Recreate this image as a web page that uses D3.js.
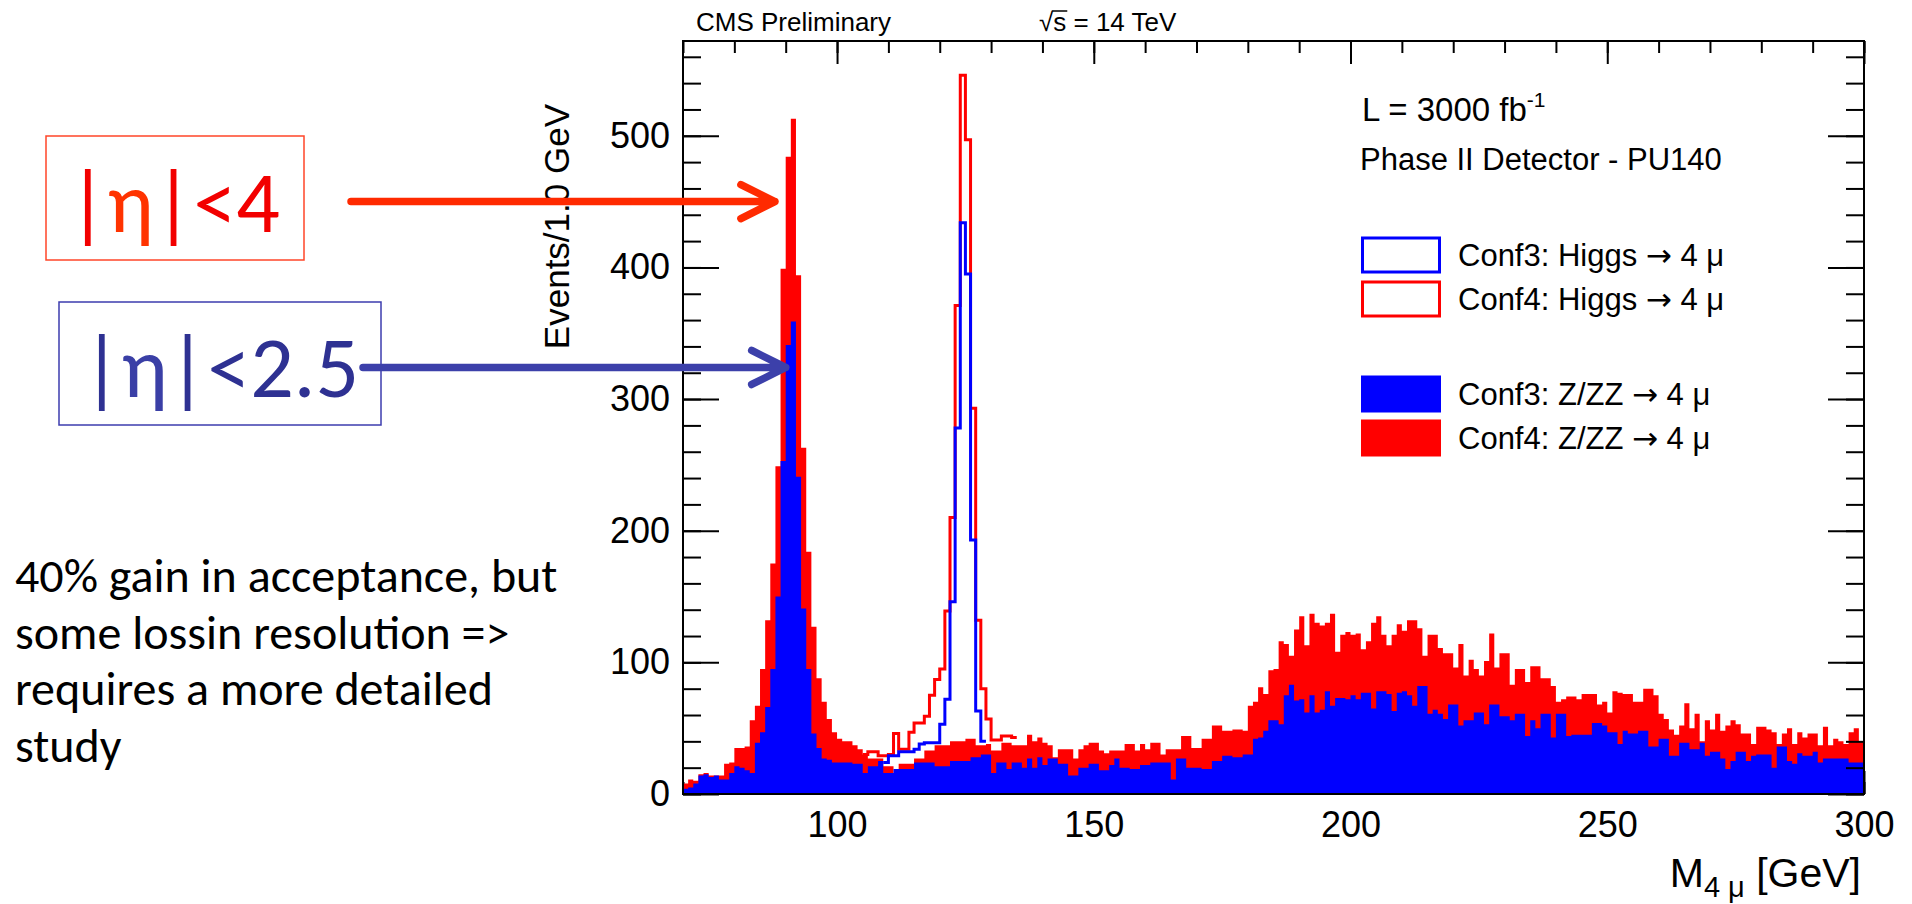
<!DOCTYPE html>
<html>
<head>
<meta charset="utf-8">
<title>M4mu Phase II</title>
<script src="https://d3js.org/d3.v7.min.js"></script>
<style>
    body { margin: 0; background: #fff; }
    svg { display: block; }
    .root-font { font-family: "Liberation Sans", Arial, Helvetica, sans-serif; }
    .slide-font { font-family: Carlito, Calibri, Lato, "Noto Sans", sans-serif; }
</style>
</head>
<body>
<svg id="chart" width="1912" height="904"></svg>
<script>
    // 1 GeV bins, first bin starts at 70 GeV
    const massStart = 70;

    const conf4ZZ = [
        8, 11, 10, 15, 16, 14, 14, 14, 23, 24,
        35, 35, 36, 56, 67, 95, 132, 175, 249, 399,
        484, 513, 394, 263, 184, 127, 88, 70, 57, 47,
        42, 40, 40, 37, 34, 30, 27, 27, 27, 21,
        21, 16, 23, 23, 23, 27, 27, 33, 33, 37,
        37, 37, 40, 40, 40, 42, 42, 37, 37, 38,
        33, 33, 39, 39, 37, 37, 37, 45, 40, 43,
        39, 37, 28, 34, 34, 34, 27, 34, 37, 39,
        39, 33, 31, 33, 33, 33, 38, 38, 33, 38,
        34, 39, 39, 30, 34, 34, 34, 44, 44, 35,
        35, 42, 42, 52, 52, 48, 48, 49, 49, 48,
        67, 70, 81, 76, 94, 95, 116, 114, 105, 125,
        135, 113, 137, 130, 128, 130, 137, 108, 121, 123,
        121, 122, 110, 116, 130, 135, 121, 113, 121, 129,
        124, 132, 132, 126, 105, 121, 121, 111, 107, 107,
        96, 114, 90, 102, 95, 90, 101, 122, 96, 107,
        107, 83, 95, 95, 85, 97, 97, 88, 88, 82,
        70, 72, 74, 74, 72, 76, 76, 76, 68, 70,
        62, 78, 77, 76, 76, 70, 70, 80, 80, 75,
        61, 57, 49, 45, 52, 69, 50, 61, 40, 56,
        49, 61, 48, 52, 56, 53, 46, 46, 38, 51,
        51, 49, 47, 38, 46, 50, 38, 47, 43, 46,
        46, 37, 51, 37, 42, 40, 38, 47, 50, 40
    ];

    const conf3ZZ = [
        4, 5, 8, 14, 15, 13, 14, 11, 11, 16,
        21, 20, 18, 16, 39, 47, 66, 95, 150, 253,
        341, 359, 241, 141, 95, 46, 35, 27, 26, 24,
        24, 24, 24, 23, 23, 16, 21, 21, 25, 16,
        16, 19, 19, 19, 19, 24, 24, 24, 24, 21,
        21, 21, 25, 25, 25, 25, 28, 28, 30, 30,
        16, 24, 24, 19, 24, 24, 20, 27, 20, 28,
        22, 27, 27, 23, 23, 14, 14, 20, 20, 23,
        23, 18, 18, 22, 27, 20, 20, 19, 19, 22,
        22, 24, 24, 24, 24, 11, 27, 27, 20, 20,
        20, 19, 19, 25, 25, 29, 29, 28, 28, 30,
        30, 42, 43, 48, 56, 56, 53, 75, 83, 71,
        72, 62, 75, 62, 64, 78, 67, 73, 73, 72,
        75, 72, 77, 77, 65, 78, 78, 76, 63, 77,
        78, 75, 67, 82, 82, 61, 64, 61, 57, 68,
        68, 52, 56, 56, 62, 62, 53, 68, 68, 59,
        59, 56, 61, 61, 44, 56, 50, 61, 61, 43,
        61, 61, 44, 45, 45, 45, 45, 54, 54, 52,
        47, 47, 38, 48, 46, 46, 48, 48, 36, 36,
        42, 42, 29, 29, 39, 39, 34, 34, 39, 29,
        32, 32, 27, 19, 25, 32, 32, 25, 29, 30,
        30, 30, 20, 36, 36, 25, 23, 31, 29, 29,
        32, 24, 27, 27, 27, 27, 27, 24, 24, 24
    ];

    // Higgs outlines only cover the window around the peak
    const conf4HiggsStart = 105;
    const conf4Higgs = [30, 32, 32, 29, 29, 30, 46, 34, 34, 47,
        54, 54, 59, 75, 87, 95, 139, 210, 371, 546,
        497, 293, 132, 80, 57, 41, 41, 44, 44, 43];

    const conf3HiggsStart = 109;
    const conf3Higgs = [24, 29, 29, 32, 32, 32, 34, 38, 39, 39,
        39, 53, 72, 146, 278, 434, 395, 193, 63, 40];

    const xTickLabels = [100, 150, 200, 250, 300];
    const yTickLabels = [0, 100, 200, 300, 400, 500];

    const legendLabels = ["Conf3: Higgs \u2192 4 \u03bc", "Conf4: Higgs \u2192 4 \u03bc",
        "Conf3: Z/ZZ \u2192 4 \u03bc", "Conf4: Z/ZZ \u2192 4 \u03bc"];
    const legendColors = ["#0000ff", "#ff0000", "#0000ff", "#ff0000"];
    const legendFilled = [false, false, true, true];

    const noteLines = ["40% gain in acceptance, but", "some lossin resolution =>",
        "requires a more detailed", "study"];

    const svg = d3.select("#chart");
    const plotLeft = 683, plotRight = 1864, plotTop = 41, plotBottom = 794;

    const x = d3.scaleLinear().domain([70, 300]).range([plotLeft, plotRight]);
    const y = d3.scaleLinear().domain([0, 572]).range([plotBottom, plotTop]);

    function histPoints(start, vals) {
        const pts = vals.map((v, i) => [start + i, v]);
        pts.push([start + vals.length, vals[vals.length - 1]]);
        return pts;
    }

    const area = d3.area()
        .x(d => x(d[0]))
        .y0(y(0))
        .y1(d => y(d[1]))
        .curve(d3.curveStepAfter);
    const line = d3.line()
        .x(d => x(d[0]))
        .y(d => y(d[1]))
        .curve(d3.curveStepAfter);

    function styleAxis(g) {
        g.select(".domain").remove();
        g.selectAll("line").attr("stroke", "#000").attr("stroke-width", 2);
        g.selectAll("text").attr("fill", "#000");
    }

    // bottom axis goes first so that the fills cover its ticks
    const bottomAxis = svg.append("g")
        .attr("class", "root-font")
        .attr("transform", `translate(0,${plotBottom})`);
    bottomAxis.append("g")
        .call(d3.axisBottom(x).tickValues(d3.range(70, 301, 10)).tickSize(-12).tickFormat(() => "").tickSizeOuter(0))
        .call(styleAxis);
    bottomAxis.append("g")
        .call(d3.axisBottom(x).tickValues(xTickLabels).tickSize(-23).tickPadding(17).tickSizeOuter(0))
        .attr("font-size", 36).attr("font-family", null)
        .call(styleAxis);

    svg.append("path")
        .attr("d", area(histPoints(massStart, conf4ZZ)))
        .attr("fill", "#ff0000");
    svg.append("path")
        .attr("d", area(histPoints(massStart, conf3ZZ)))
        .attr("fill", "#0000ff");
    svg.append("path")
        .attr("d", line(histPoints(conf4HiggsStart, conf4Higgs)))
        .attr("fill", "none").attr("stroke", "#ff0000").attr("stroke-width", 3);
    svg.append("path")
        .attr("d", line(histPoints(conf3HiggsStart, conf3Higgs)))
        .attr("fill", "none").attr("stroke", "#0000ff").attr("stroke-width", 3);

    // remaining axes on top
    const yMinor = d3.range(0, 572, 20);
    svg.append("g").attr("transform", `translate(${plotLeft},0)`)
        .call(d3.axisLeft(y).tickValues(yMinor).tickSize(-18).tickFormat(() => "").tickSizeOuter(0))
        .call(styleAxis);
    svg.append("g").attr("class", "root-font").attr("transform", `translate(${plotLeft},0)`)
        .call(d3.axisLeft(y).tickValues(yTickLabels).tickSize(-36).tickPadding(13).tickSizeOuter(0))
        .attr("font-size", 36).attr("font-family", null)
        .call(styleAxis);
    svg.append("g").attr("transform", `translate(${plotRight},0)`)
        .call(d3.axisRight(y).tickValues(yMinor).tickSize(-18).tickFormat(() => "").tickSizeOuter(0))
        .call(styleAxis);
    svg.append("g").attr("transform", `translate(${plotRight},0)`)
        .call(d3.axisRight(y).tickValues(yTickLabels).tickSize(-36).tickFormat(() => "").tickSizeOuter(0))
        .call(styleAxis);
    svg.append("g").attr("transform", `translate(0,${plotTop})`)
        .call(d3.axisTop(x).tickValues(d3.range(70, 301, 10)).tickSize(-12).tickFormat(() => "").tickSizeOuter(0))
        .call(styleAxis);
    svg.append("g").attr("transform", `translate(0,${plotTop})`)
        .call(d3.axisTop(x).tickValues(xTickLabels).tickSize(-23).tickFormat(() => "").tickSizeOuter(0))
        .call(styleAxis);

    svg.append("rect")
        .attr("x", plotLeft).attr("y", plotTop)
        .attr("width", plotRight - plotLeft).attr("height", plotBottom - plotTop)
        .attr("fill", "none").attr("stroke", "#000").attr("stroke-width", 2);

    // axis titles
    svg.append("text")
        .attr("class", "root-font")
        .attr("transform", "translate(569,104) rotate(-90)")
        .attr("text-anchor", "end")
        .attr("font-size", 35)
        .text("Events/1.0 GeV");

    const xTitle = svg.append("text")
        .attr("class", "root-font")
        .attr("x", 1861).attr("y", 887)
        .attr("text-anchor", "end")
        .attr("font-size", 41);
    xTitle.append("tspan").text("M");
    xTitle.append("tspan").attr("font-size", 29).attr("dy", 10).text("4 \u03bc");
    xTitle.append("tspan").attr("dy", -10).text(" [GeV]");

    // header texts
    svg.append("text")
        .attr("class", "root-font")
        .attr("x", 696).attr("y", 31)
        .attr("font-size", 26)
        .text("CMS Preliminary");
    const sqrtText = svg.append("text")
        .attr("class", "root-font")
        .attr("x", 1039).attr("y", 31)
        .attr("font-size", 26)
        .text("\u221as = 14 TeV");
    const sNode = sqrtText.node();
    const sStart = sNode.getStartPositionOfChar(1);
    const sEnd = sNode.getEndPositionOfChar(1);
    svg.append("line")
        .attr("x1", sStart.x - 1).attr("x2", sEnd.x + 1)
        .attr("y1", 11).attr("y2", 11)
        .attr("stroke", "#000").attr("stroke-width", 1.5);

    // legend
    const lumi = svg.append("text")
        .attr("class", "root-font")
        .attr("x", 1362).attr("y", 121)
        .attr("font-size", 33);
    lumi.append("tspan").text("L = 3000 fb");
    lumi.append("tspan").attr("font-size", 21).attr("dy", -14).text("-1");

    svg.append("text")
        .attr("class", "root-font")
        .attr("x", 1360).attr("y", 170)
        .attr("font-size", 31)
        .text("Phase II Detector - PU140");

    const rowY = i => 255 + 44 * i + (i >= 2 ? 51 : 0);
    const legend = svg.append("g").attr("class", "root-font");
    legendLabels.forEach((label, i) => {
        legend.append("rect")
            .attr("x", legendFilled[i] ? 1361 : 1362.5)
            .attr("y", rowY(i) - (legendFilled[i] ? 18.5 : 17))
            .attr("width", legendFilled[i] ? 80 : 77)
            .attr("height", legendFilled[i] ? 37 : 34)
            .attr("fill", legendFilled[i] ? legendColors[i] : "none")
            .attr("stroke", legendFilled[i] ? "none" : legendColors[i])
            .attr("stroke-width", 3);
        const [before, after] = label.split("\u2192");
        const t = legend.append("text")
            .attr("x", 1458).attr("y", rowY(i))
            .attr("dy", "0.36em")
            .attr("font-size", 31);
        t.append("tspan").text(before);
        // the ROOT symbol-font arrow is wider than the Arial one
        t.append("tspan").attr("font-family", "DejaVu Sans").text("\u2192");
        t.append("tspan").text(after);
    });

    // slide annotations
    const note = svg.append("g").attr("class", "slide-font");

    note.append("rect")
        .attr("x", 46).attr("y", 136).attr("width", 258).attr("height", 124)
        .attr("fill", "none").attr("stroke", "#ff4628").attr("stroke-width", 1.5);
    const etaRed = note.append("text").attr("x", 68).attr("y", 232).attr("font-size", 86);
    etaRed.append("tspan").attr("fill", "#f20000").text("|");
    etaRed.append("tspan").attr("fill", "#ff3300").text("\u03b7");
    etaRed.append("tspan").attr("fill", "#f20000").text("|<4");

    note.append("rect")
        .attr("x", 59).attr("y", 302).attr("width", 322).attr("height", 123)
        .attr("fill", "none").attr("stroke", "#3c3cae").attr("stroke-width", 1.5);
    const etaBlue = note.append("text").attr("x", 82).attr("y", 397).attr("font-size", 86)
        .attr("fill", "#2e3192");
    etaBlue.append("tspan").text("|");
    etaBlue.append("tspan").attr("fill", "#3a3fa6").text("\u03b7");
    etaBlue.append("tspan").text("|<2.5");

    function arrow(x0, tip, color) {
        const [tx, ty] = tip;
        note.append("path")
            .attr("d", `M${x0},${ty}L${tx},${ty}M${tx - 34},${ty - 17}L${tx},${ty}L${tx - 34},${ty + 17}`)
            .attr("fill", "none").attr("stroke", color).attr("stroke-width", 7.5)
            .attr("stroke-linecap", "round").attr("stroke-linejoin", "round");
    }
    arrow(351, [x(87.9), y(450)], "#ff2a00");
    arrow(363, [x(90.0), y(324)], "#3c40aa");

    note.append("g").selectAll("text")
        .data(noteLines)
        .join("text")
        .attr("x", 15)
        .attr("y", (d, i) => 592 + i * 56.7)
        .attr("font-size", 48)
        .attr("fill", "#000")
        .text(d => d);
</script>
</body>
</html>
